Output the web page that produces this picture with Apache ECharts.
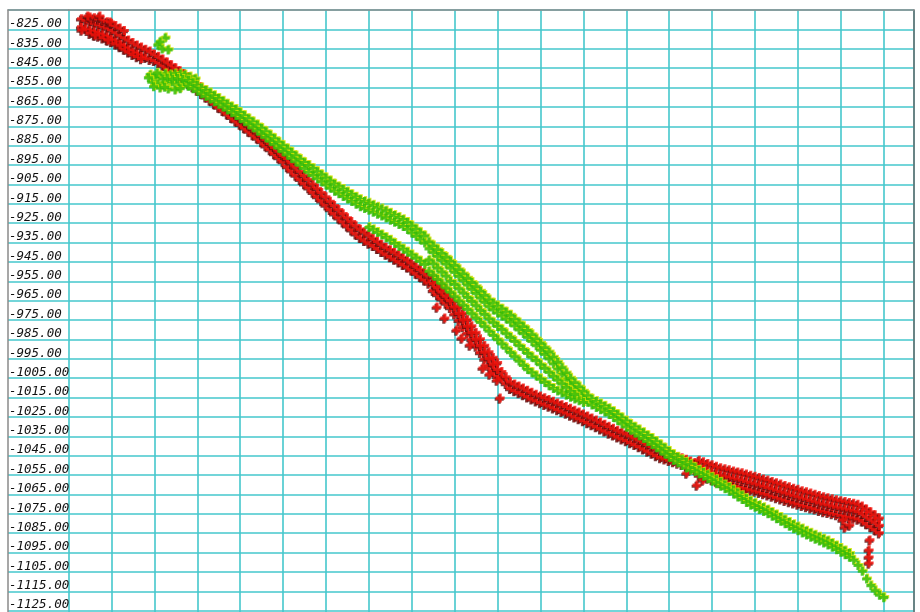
<!DOCTYPE html>
<html><head><meta charset="utf-8">
<script src="https://cdn.jsdelivr.net/npm/echarts@6/dist/echarts.min.js"></script>
<style>html,body{margin:0;padding:0;background:#fff}#c{width:920px;height:612px}</style>
</head><body><div id="c"></div>
<script>
// ---- axes ----
const Y_MIN = -1135, Y_MAX = -815, Y_STEP = 10;
const X_MIN = 0, X_MAX = 197.06, X_STEP = 10;

// ---- red series: [x, upper-row y, lower-row y] ----
const redBand = [[3,-819.5,-823.7],[4,-820.3,-824.5],[5,-821.1,-825.3],[6,-821.8,-826.0],[7,-822.6,-826.8],[8,-823.4,-827.6],[9,-824.2,-828.4],[10,-825.2,-829.4],[11,-826.5,-830.7],[12,-827.9,-832.1],[13,-829.2,-833.4],[14,-830.5,-834.7],[15,-831.8,-836.0],[16,-833.0,-837.2],[17,-834.1,-838.3],[18,-835.2,-839.4],[19,-836.2,-840.4],[20,-837.8,-841.0],[21,-838.9,-842.1],[22,-840.3,-843.5],[23,-841.8,-845.0],[24,-843.3,-846.5],[25,-844.8,-848.0],[26,-846.3,-849.5],[27,-847.9,-851.1],[28,-849.6,-852.8],[29,-851.3,-854.5],[30,-853.1,-856.3],[31,-854.8,-858.0],[32,-856.6,-859.8],[33,-858.3,-861.5],[34,-860.1,-863.3],[35,-861.9,-865.1],[36,-863.6,-866.8],[37,-865.4,-868.6],[38,-867.2,-870.4],[39,-869.0,-872.2],[40,-870.7,-873.9],[41,-872.5,-875.7],[42,-874.3,-877.5],[43,-876.1,-879.3],[44,-877.8,-881.0],[45,-879.7,-882.9],[46,-881.8,-885.0],[47,-883.8,-887.0],[48,-885.9,-889.1],[49,-887.9,-891.1],[50,-890.0,-893.2],[51,-891.6,-895.8],[52,-893.8,-898.0],[53,-896.0,-900.2],[54,-898.2,-902.4],[55,-900.4,-904.6],[56,-902.5,-906.7],[57,-904.8,-909.0],[58,-907.0,-911.2],[59,-909.2,-913.4],[60,-911.4,-915.6],[61,-913.7,-917.9],[62,-915.9,-920.1],[63,-918.0,-922.2],[64,-920.1,-924.3],[65,-922.2,-926.4],[66,-924.2,-928.4],[67,-926.3,-930.5],[68,-928.1,-932.3],[69,-929.6,-933.8],[70,-931.1,-935.3],[71,-932.9,-936.5],[72,-934.4,-938.0],[73,-935.9,-939.5],[74,-937.4,-941.0],[75,-938.7,-942.3],[76,-940.0,-943.6],[77,-941.3,-944.9],[78,-942.7,-946.3],[79,-944.0,-947.6],[80,-945.5,-949.1],[81,-947.2,-950.8],[82,-948.9,-952.5],[83,-950.6,-954.2],[84,-952.3,-955.9],[85,-952.7,-959.7],[86,-954.8,-961.8],[87,-957.0,-964.0],[88,-959.2,-966.2],[89,-961.5,-968.5],[90,-964.8,-971.8],[91,-968.1,-975.1],[92,-971.4,-978.4],[93,-974.7,-981.7],[94,-978.0,-985.0],[95,-981.4,-988.4],[96,-984.7,-991.7],[97,-988.1,-995.1],[98,-991.4,-998.4],[99,-994.3,-1001.3],[100,-997.0,-1004.0],[101,-1001.6,-1005.0],[102,-1004.3,-1007.7],[103,-1006.9,-1010.3],[104,-1008.0,-1011.4],[105,-1009.1,-1012.5],[106,-1010.1,-1013.5],[107,-1011.2,-1014.6],[108,-1012.3,-1015.7],[109,-1013.3,-1016.7],[110,-1014.2,-1017.6],[111,-1015.1,-1018.5],[112,-1016.0,-1019.4],[113,-1016.9,-1020.3],[114,-1017.8,-1021.2],[115,-1018.7,-1022.1],[116,-1019.6,-1023.0],[117,-1020.6,-1024.0],[118,-1021.6,-1025.0],[119,-1022.5,-1025.9],[120,-1023.5,-1026.9],[121,-1024.5,-1027.9],[122,-1025.6,-1029.0],[123,-1026.6,-1030.0],[124,-1027.7,-1031.1],[125,-1028.8,-1032.2],[126,-1029.9,-1033.3],[127,-1030.9,-1034.3],[128,-1031.9,-1035.3],[129,-1032.9,-1036.3],[130,-1033.8,-1037.2],[131,-1034.8,-1038.2],[132,-1035.8,-1039.2],[133,-1036.9,-1040.3],[134,-1038.1,-1041.5],[135,-1039.2,-1042.6],[136,-1040.3,-1043.7],[137,-1041.5,-1044.9],[138,-1042.6,-1046.0],[139,-1043.3,-1046.7],[140,-1044.0,-1047.4],[141,-1044.7,-1048.1],[142,-1045.4,-1048.8],[143,-1046.1,-1049.5],[144,-1046.9,-1050.3],[145,-1047.8,-1051.2],[146,-1048.6,-1052.0],[147,-1047.4,-1055.0],[148,-1048.2,-1055.8],[149,-1049.0,-1056.6],[150,-1049.7,-1057.3],[151,-1050.5,-1058.1],[152,-1051.3,-1058.9],[153,-1051.8,-1059.4],[154,-1052.3,-1059.9],[155,-1052.9,-1060.5],[156,-1053.4,-1061.0],[157,-1053.9,-1061.5],[158,-1054.5,-1062.1],[159,-1055.1,-1062.7],[160,-1055.7,-1063.3],[161,-1056.3,-1063.9],[162,-1057.0,-1064.6],[163,-1057.6,-1065.2],[164,-1058.3,-1065.9],[165,-1059.0,-1066.6],[166,-1059.7,-1067.3],[167,-1060.4,-1068.0],[168,-1061.1,-1068.7],[169,-1061.8,-1069.4],[170,-1062.4,-1070.0],[171,-1063.1,-1070.7],[172,-1063.7,-1071.3],[173,-1064.3,-1071.9],[174,-1064.9,-1072.5],[175,-1065.6,-1073.2],[176,-1066.2,-1073.8],[177,-1066.7,-1074.3],[178,-1067.3,-1074.9],[179,-1067.8,-1075.4],[180,-1068.3,-1075.9],[181,-1068.7,-1076.3],[182,-1069.2,-1076.8],[183,-1069.6,-1077.2],[184,-1070.1,-1077.7],[185,-1071.0,-1078.6],[186,-1072.5,-1080.1],[187,-1074.0,-1081.6],[188,-1075.5,-1083.1],[189,-1077.2,-1084.8]];
const redMid = [[85,-956.2],[86,-958.3],[87,-960.5],[88,-962.7],[89,-965.0],[90,-968.3],[91,-971.6],[92,-974.9],[93,-978.2],[94,-981.5],[95,-984.9],[96,-988.2],[97,-991.6],[98,-994.9],[99,-997.8],[100,-1000.5],[147,-1051.2],[148,-1052.0],[149,-1052.8],[150,-1053.5],[151,-1054.3],[152,-1055.1],[153,-1055.6],[154,-1056.1],[155,-1056.7],[156,-1057.2],[157,-1057.7],[158,-1058.3],[159,-1058.9],[160,-1059.5],[161,-1060.1],[162,-1060.8],[163,-1061.4],[164,-1062.1],[165,-1062.8],[166,-1063.5],[167,-1064.2],[168,-1064.9],[169,-1065.6],[170,-1066.2],[171,-1066.9],[172,-1067.5],[173,-1068.1],[174,-1068.7],[175,-1069.4],[176,-1070.0],[177,-1070.5],[178,-1071.1],[179,-1071.6],[180,-1072.1],[181,-1072.5],[182,-1073.0],[183,-1073.4],[184,-1073.9],[185,-1074.8],[186,-1076.3],[187,-1077.8],[188,-1079.3],[189,-1081.0]];
// outer rows of the wide starting cluster
const redStart = [[5,-818.6],[6,-819.0],[7,-819.6],[8,-820.3],[9,-821.0],[10,-821.9],[11,-823.0],[12,-824.3],[13,-825.6],[5,-827.0],[6,-827.8],[7,-828.4],[8,-829.3],[9,-830.2],[10,-831.3],[11,-832.5],[12,-833.9],[13,-835.2],[14,-836.6],[15,-837.9],[16,-839.0],[17,-840.0]];
const redScatter = [[4.5,-818.1],[7.3,-818.1],[9.7,-821.2],[3.1,-825.3],[6.2,-827.9],[9.2,-830.5],[12.0,-833.1],[85.9,-968.3],[87.7,-974.0],[90.5,-980.2],[91.7,-984.3],[93.6,-987.9],[96.6,-999.8],[98.2,-1002.9],[99.9,-1006.0],[100.6,-1015.3],[144.1,-1054.0],[146.5,-1060.2],[147.9,-1057.6],[180.5,-1078.2],[181.0,-1081.8],[182.1,-1080.8],[186.8,-1088.5],[186.6,-1093.7],[186.6,-1097.3],[186.6,-1100.4]];

// ---- green series ----
const greenCluster = [[19.0,-848.5],[20.1,-850.1],[21.3,-849.1],[22.5,-848.0],[23.7,-848.5],[24.8,-848.0],[26.0,-848.0],[27.1,-848.5],[28.3,-849.6],[29.5,-850.6],[19.4,-852.2],[20.8,-853.2],[22.2,-852.7],[23.7,-852.2],[25.0,-853.7],[26.4,-853.2],[27.8,-854.2],[23.2,-855.8],[24.8,-856.3],[21.3,-855.3],[18.6,-850.0],[19.8,-854.6],[20.6,-847.6],[22.0,-850.6],[23.0,-850.2],[24.2,-850.8],[25.4,-850.4],[26.6,-850.9],[27.6,-851.6],[22.4,-854.9],[26.0,-855.6],[22.5,-829.5],[20.8,-833.1],[21.8,-835.1],[23.2,-835.6],[21.3,-831.5]];
const greenBand = [[28,-851.3,-854.3],[29,-852.6,-855.6],[30,-853.9,-856.9],[31,-855.3,-858.3],[32,-856.6,-859.6],[33,-857.9,-860.9],[34,-859.3,-862.3],[35,-860.7,-863.7],[36,-862.1,-865.1],[37,-863.6,-866.6],[38,-865.0,-868.0],[39,-866.4,-869.4],[40,-868.0,-871.0],[41,-869.6,-872.6],[42,-871.2,-874.2],[43,-872.8,-875.8],[44,-874.4,-877.4],[45,-876.1,-879.1],[46,-877.9,-880.9],[47,-879.7,-882.7],[48,-881.5,-884.5],[49,-883.3,-886.3],[50,-885.1,-888.1],[51,-886.8,-889.8],[52,-888.6,-891.6],[53,-890.3,-893.3],[54,-892.1,-895.1],[55,-893.8,-896.8],[56,-895.3,-898.9],[57,-896.9,-900.5],[58,-898.5,-902.1],[59,-900.1,-903.7],[60,-901.7,-905.3],[61,-903.3,-906.9],[62,-904.9,-908.5],[63,-906.3,-909.9],[64,-907.6,-911.2],[65,-908.9,-912.5],[66,-910.3,-913.9],[67,-911.6,-915.2],[68,-912.9,-916.5],[69,-913.9,-917.5],[70,-914.8,-918.4],[71,-915.8,-919.4],[72,-916.8,-920.4],[73,-917.7,-921.3],[74,-918.7,-922.3],[75,-919.9,-923.5],[76,-921.0,-924.6],[77,-922.1,-925.7],[78,-923.2,-926.8],[79,-924.7,-928.3],[80,-926.5,-930.1],[81,-928.2,-931.8],[82,-930.0,-933.6],[83,-931.7,-935.3],
[84,-934.8,-938.3],[85,-936.8,-940.3],[86,-938.8,-942.3],[87,-940.7,-944.2],[88,-942.7,-946.2],[89,-944.7,-948.2],[90,-946.9,-950.4],[91,-949.1,-952.6],[92,-951.3,-954.8],[93,-953.5,-957.0],[94,-955.7,-959.2],[95,-957.9,-961.4],[96,-960.2,-963.7],[97,-962.4,-965.9],[98,-964.7,-968.2],[99,-966.3,-969.8],[100,-967.9,-971.4],[101,-969.4,-972.9],[102,-971.0,-974.5],[103,-972.6,-976.1],[104,-974.6,-978.1],[105,-976.6,-980.1],[106,-978.5,-982.0],[107,-980.5,-984.0],[108,-982.6,-986.1],[109,-984.8,-988.3],[110,-987.1,-990.6],[111,-989.3,-992.8],[112,-991.6,-995.1],[113,-994.2,-997.7],[114,-996.9,-1000.4],[115,-999.7,-1003.2],[116,-1002.4,-1005.9],[117,-1005.1,-1008.6],[118,-1007.4,-1010.9],[119,-1009.6,-1013.1],[120,-1011.8,-1015.3],[121,-1014.1,-1017.5],
[122,-1015.9,-1018.9],[123,-1017.1,-1020.1],[124,-1018.3,-1021.3],[125,-1019.5,-1022.5],[126,-1020.8,-1023.8],[127,-1022.3,-1025.3],[128,-1023.9,-1026.9],[129,-1025.6,-1028.6],[130,-1027.2,-1030.2],[131,-1028.9,-1031.9],[132,-1030.3,-1033.3],[133,-1031.8,-1034.8],[134,-1033.2,-1036.2],[135,-1034.7,-1037.7],[136,-1036.2,-1039.2],[137,-1037.9,-1040.9],[138,-1039.5,-1042.5],[139,-1041.2,-1044.2],[140,-1042.9,-1045.9],[141,-1044.5,-1047.5],[142,-1045.8,-1048.8],[143,-1047.1,-1050.1],[144,-1048.4,-1051.4],[145,-1049.5,-1052.5],[146,-1051.2,-1053.2],[147,-1052.5,-1054.5],[148,-1053.7,-1055.7],[149,-1054.9,-1056.9],[150,-1056.2,-1058.2],[151,-1057.5,-1059.5],[152,-1058.8,-1060.8],[153,-1060.1,-1062.1],[154,-1061.4,-1063.4],[155,-1062.8,-1064.8],[156,-1064.3,-1066.3],[157,-1065.7,-1067.7],[158,-1067.2,-1069.2],[159,-1068.6,-1070.6],[160,-1069.7,-1071.7],[161,-1070.8,-1072.8],[162,-1071.9,-1073.9],[163,-1073.0,-1075.0],[164,-1074.3,-1076.3],[165,-1075.6,-1077.6],[166,-1076.9,-1078.9],[167,-1078.2,-1080.2],[168,-1079.5,-1081.5],[169,-1080.7,-1082.7],[170,-1081.8,-1083.8],[171,-1082.9,-1084.9],[172,-1084.0,-1086.0],[173,-1085.1,-1087.1],[174,-1086.1,-1088.1],[175,-1087.1,-1089.1],[176,-1088.1,-1090.1],[177,-1089.1,-1091.1],[178,-1090.3,-1092.3],[179,-1091.6,-1093.6],[180,-1092.9,-1094.9],[181,-1094.2,-1096.2],[182,-1095.5,-1097.5]];
// inner green strand, and the lower / middle part of the wide section
const greenInner = [[70,-927.3],[71,-928.4],[72,-929.8],[73,-931.1],[74,-932.5],[75,-933.8],[76,-935.5],[77,-937.0],[78,-938.5],[79,-940.0],[80,-941.5],[81,-943.1],[82,-944.7],[83,-946.3],
[84,-949.9],[85,-951.9],[86,-954.1],[87,-956.3],[88,-958.5],[89,-960.7],[90,-963.0],[91,-965.2],[92,-967.4],[93,-969.6],[94,-971.8],[95,-974.0],[96,-976.3],[97,-978.5],[98,-980.8],[99,-983.0],[100,-985.2],[101,-987.4],[102,-989.6],[103,-991.8],[104,-994.0],[105,-996.2],[106,-998.4],[107,-1000.6],[108,-1002.2],[109,-1003.9],[110,-1005.5],[111,-1007.2],[112,-1008.9],[113,-1010.4],[114,-1011.6],[115,-1012.7],[116,-1013.8],[117,-1014.9],[118,-1015.8],[119,-1016.7],[120,-1017.6],
[84,-944.1],[85,-946.1],[86,-948.2],[87,-950.3],[88,-952.4],[89,-955.0],[90,-956.7],[91,-958.9],[92,-961.1],[93,-963.4],[94,-965.5],[95,-967.7],[96,-970.0],[97,-972.2],[98,-974.5],[99,-976.4],[100,-978.3],[101,-980.0],[102,-982.1],[103,-984.0],[104,-986.1],[105,-988.3],[106,-990.2],[107,-992.3],[108,-994.2],[109,-996.0],[110,-998.1],[111,-1000.0],[112,-1002.0],[113,-1004.1],[114,-1006.0],[115,-1008.0],[116,-1009.9],[117,-1011.8],[118,-1013.4]];
const greenTail = [[183,-1099.0],[184,-1101.7],[185,-1104.7],[186,-1108.7],[187,-1112.1],[188,-1114.8],[189,-1117.0],[190,-1118.3]];

// ---- build ----
const rows = b => b.flatMap(r => [[r[0], r[1]], [r[0], r[2]]]);
const redData = rows(redBand).concat(redMid, redStart, redScatter);
const greenData = greenCluster.concat(rows(greenBand), greenInner, greenTail);

const PLUS = 'path://M2.6,0H5.4V2.6H8V5.4H5.4V8H2.6V5.4H0V2.6H2.6Z';
const CYAN = '#44c7cc';
const GRID_TOP = 10, GRID_H = 620;

const chart = echarts.init(document.getElementById('c'), null, {renderer: 'canvas'});
const noAxisBits = {axisTick: {show: false}, axisLabel: {show: false}};
chart.setOption({
  backgroundColor: '#ffffff',
  animation: false,
  grid: [
    {left: 8, top: GRID_TOP, width: 60.6, height: GRID_H, show: false, containLabel: false, outerBoundsMode: 'none'},
    {left: 68.6, top: GRID_TOP, width: 845.4, height: GRID_H, show: false, containLabel: false, outerBoundsMode: 'none'}
  ],
  xAxis: [
    Object.assign({gridIndex: 0, type: 'value', position: 'top', min: 0, max: 1,
      axisLine: {show: true, onZero: false, lineStyle: {color: '#8d8d8d', width: 1.5}},
      splitLine: {show: false}}, noAxisBits),
    Object.assign({gridIndex: 1, type: 'value', position: 'top', min: X_MIN, max: X_MAX, interval: X_STEP,
      axisLine: {show: true, onZero: false, lineStyle: {color: '#8d8d8d', width: 1.5}},
      splitLine: {show: true, lineStyle: {color: CYAN, width: 1.6}}}, noAxisBits)
  ],
  yAxis: [
    {gridIndex: 0, type: 'value', position: 'left', min: Y_MIN, max: Y_MAX, interval: Y_STEP,
      axisLine: {show: true, onZero: false, lineStyle: {color: '#8a8a8a', width: 1.5}},
      axisTick: {show: false},
      axisLabel: {inside: true, margin: 1, verticalAlign: 'bottom', lineHeight: 11,
        fontFamily: 'DejaVu Sans Mono', fontStyle: 'italic', fontSize: 12.5, color: '#111',
        formatter: v => (v === Y_MAX ? '' : v.toFixed(2))},
      splitLine: {show: true, lineStyle: {color: CYAN, width: 1.6}}},
    Object.assign({gridIndex: 1, type: 'value', position: 'right', min: Y_MIN, max: Y_MAX, interval: Y_STEP,
      axisLine: {show: true, onZero: false, lineStyle: {color: '#6a6a6a', width: 1.5}},
      splitLine: {show: true, lineStyle: {color: CYAN, width: 1.6}}}, noAxisBits)
  ],
  series: [
    {type: 'scatter', xAxisIndex: 1, yAxisIndex: 1, data: redData, symbol: PLUS, symbolSize: 9,
      silent: true,
      itemStyle: {color: '#f4120a', shadowColor: '#5e0c0c', shadowOffsetX: -1, shadowOffsetY: 1.2, shadowBlur: 0}},
    {type: 'scatter', xAxisIndex: 1, yAxisIndex: 1, data: greenData, symbol: PLUS, symbolSize: 9,
      silent: true,
      itemStyle: {color: '#2fba0a', shadowColor: '#d2e200', shadowOffsetX: 1, shadowOffsetY: -1, shadowBlur: 0}}
  ]
});
</script></body></html>
